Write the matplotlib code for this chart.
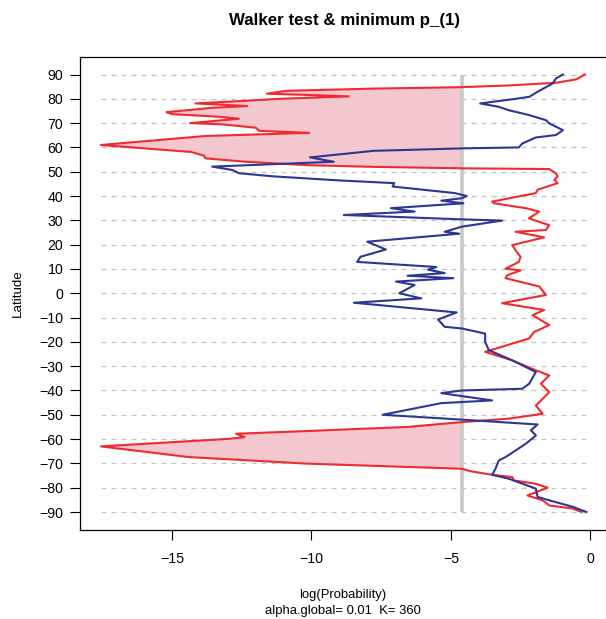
import numpy as np
import matplotlib
matplotlib.use("Agg")
import matplotlib.pyplot as plt

plt.rcParams['font.family'] = ['Liberation Sans', 'DejaVu Sans']

# minimum p_(1), log scale, by latitude (red)
red_lat = [90, 88, 86.6, 85.5, 84.8, 84.2, 83.3, 82.1, 81.6, 81.0, 80.0, 79.2, 78.1, 77.0,
           76.3, 74.5, 73.7, 72.6, 71.8, 70.0, 69.5, 68.1, 66.8, 66.0, 64.7, 61.0, 58.1,
           56.6, 55.5, 54.1, 52.7, 52.0, 51.4, 51.1, 49.3, 48.0, 46.7, 45.3, 42.6, 41.2,
           37.7, 37.0, 35.0, 33.6, 30.8, 28.0, 26.0, 25.3, 23.0, 19.8, 17.7, 15.0, 12.9,
           10.1, 9.4, 7.4, 6.2, 2.8, -0.7, -4.1, -6.9, -9.0, -13.1, -15.9, -18.6, -24.1,
           -27.6, -31.7, -33.8, -37.2, -40.7, -46.2, -49.6, -51.6, -53.0, -55.0, -56.7,
           -57.8, -59.2, -59.9, -63.0, -64.9, -67.4, -70.1, -72.2, -73.2, -74.7, -75.6,
           -77.0, -78.4, -80.0, -83.2, -85.2, -87.3, -88.6, -90.0]
red_x = [-0.2, -0.5, -1.23, -2.92, -4.6, -7.76, -10.9, -11.6, -10.17, -8.66, -11.14, -12.35,
         -14.16, -12.3, -13.56, -15.2, -15.0, -13.3, -12.6, -14.35, -13.2, -12.0, -11.87,
         -10.08, -13.8, -17.55, -14.3, -13.86, -13.8, -12.35, -10.17, -7.76, -4.6, -1.47,
         -1.23, -1.17, -1.29, -1.17, -1.89, -1.95, -3.52, -3.45, -2.31, -1.83, -2.2, -1.47,
         -1.59, -2.68, -1.65, -2.8, -2.68, -2.5, -2.56, -3.04, -2.5, -2.98, -3.04, -1.83,
         -1.59, -3.16, -1.65, -2.07, -1.47, -2.01, -2.19, -3.77, -2.8, -1.95, -1.47, -1.77,
         -1.47, -1.95, -1.71, -2.92, -4.6, -6.55, -10.17, -12.7, -12.4, -12.96, -17.55,
         -16.2, -14.4, -10.17, -4.6, -4.3, -3.52, -2.8, -2.74, -1.95, -1.53, -2.25, -1.71,
         -1.47, -0.62, -0.32]

# Walker test (blue)
blue_lat = [90, 88.4, 86.3, 82.9, 80.8, 79.5, 78.1, 76.7, 75.3, 73.3, 71.2, 69.9, 67.1, 65.1,
            64.1, 61.6, 60.0, 59.6, 58.6, 55.9, 54.1, 52.1, 50.7, 49.4, 48.1, 46.4, 45.3,
            43.9, 43.2, 41.2, 40.0, 39.1, 38.1, 37.0, 35.0, 33.6, 32.2, 30.4, 29.9, 27.4,
            25.3, 24.5, 21.2, 18.0, 15.0, 12.9, 10.8, 9.7, 8.3, 7.2, 6.2, 4.8, 3.4, 0.0,
            -2.1, -3.9, -7.9, -10.8, -13.8, -14.5, -16.6, -20.0, -23.4, -27.6, -32.4, -37.2,
            -39.3, -40.0, -41.1, -44.1, -45.2, -50.0, -52.0, -54.0, -56.4, -58.5, -61.9,
            -64.7, -67.4, -68.8, -72.2, -74.7, -76.3, -80.4, -83.8, -85.2, -87.9, -90.0]
blue_x = [-0.98, -1.23, -1.35, -1.89, -2.19, -3.0, -3.95, -3.28, -2.92, -2.19, -1.59, -1.47,
          -0.98, -1.23, -1.95, -2.44, -2.56, -4.6, -7.76, -10.05, -9.2, -13.56, -12.83, -12.6,
          -11.38, -8.97, -7.03, -7.09, -6.5, -4.85, -4.43, -4.6, -5.34, -4.55, -7.15, -6.3,
          -8.84, -4.6, -3.16, -4.6, -5.22, -4.7, -8.0, -7.33, -8.24, -8.36, -5.52, -5.82,
          -5.22, -6.55, -4.91, -6.97, -6.3, -6.85, -6.06, -8.48, -4.79, -5.46, -5.22, -4.6,
          -3.77, -3.77, -3.64, -2.8, -1.95, -2.19, -2.44, -4.6, -5.34, -3.52, -5.34, -7.45,
          -4.6, -1.89, -2.13, -1.95, -2.31, -2.68, -3.04, -3.28, -3.4, -3.52, -2.92, -1.95,
          -1.89, -1.47, -0.62, -0.14]

thr = np.log(0.01)
lat_ticks = list(range(-90, 91, 10))
x_ticks = [-15, -10, -5, 0]

red_lat = np.array(red_lat)
red_x = np.array(red_x)

fig = plt.figure(figsize=(6.06, 6.19), dpi=100)
ax = fig.add_axes([80 / 606, 1 - 529.5 / 619, 527 / 606, 472.5 / 619])

xmin = min(red_x.min(), min(blue_x))
xmax = max(red_x.max(), max(blue_x))
ax.hlines(lat_ticks, xmin, xmax, colors='#c4c4c4', linestyles=(0, (4, 4)), lw=0.9, zorder=1)
ax.fill_betweenx(red_lat, red_x, thr, where=red_x < thr, interpolate=True,
                 color='#f4c6cd', lw=0, zorder=2)
ax.vlines(thr, -90, 90, colors='#c8c8c8', lw=2.6, zorder=3)
ax.plot(red_x, red_lat, color='#f02a2e', lw=1.5, zorder=4)
ax.plot(blue_x, blue_lat, color='#2c3693', lw=1.5, zorder=5)

ax.set_xlim(-18.3, 0.6)
ax.set_ylim(-97.2, 97.2)
ax.set_yticks(lat_ticks)
ax.set_xticks(x_ticks)
ax.tick_params(labelsize=10.2, length=7, width=0.8, pad=5)
ax.tick_params(axis='x', pad=9)
for s in ax.spines.values():
    s.set_linewidth(0.9)

fig.text(18 / 606, 1 - 293 / 619, 'Latitude', rotation=90, ha='center', va='center',
         fontsize=9.6)
fig.text(343 / 606, 1 - 595 / 619, 'log(Probability)', ha='center', va='center', fontsize=9.4)
fig.text(343 / 606, 1 - 611 / 619, 'alpha.global= 0.01  K= 360', ha='center', va='center',
         fontsize=9.4)
fig.text(345 / 606, 1 - 20 / 619, 'Walker test & minimum p_(1)', ha='center', va='center',
         fontsize=12.2, fontweight='bold')

fig.savefig('out.png', dpi=100)
